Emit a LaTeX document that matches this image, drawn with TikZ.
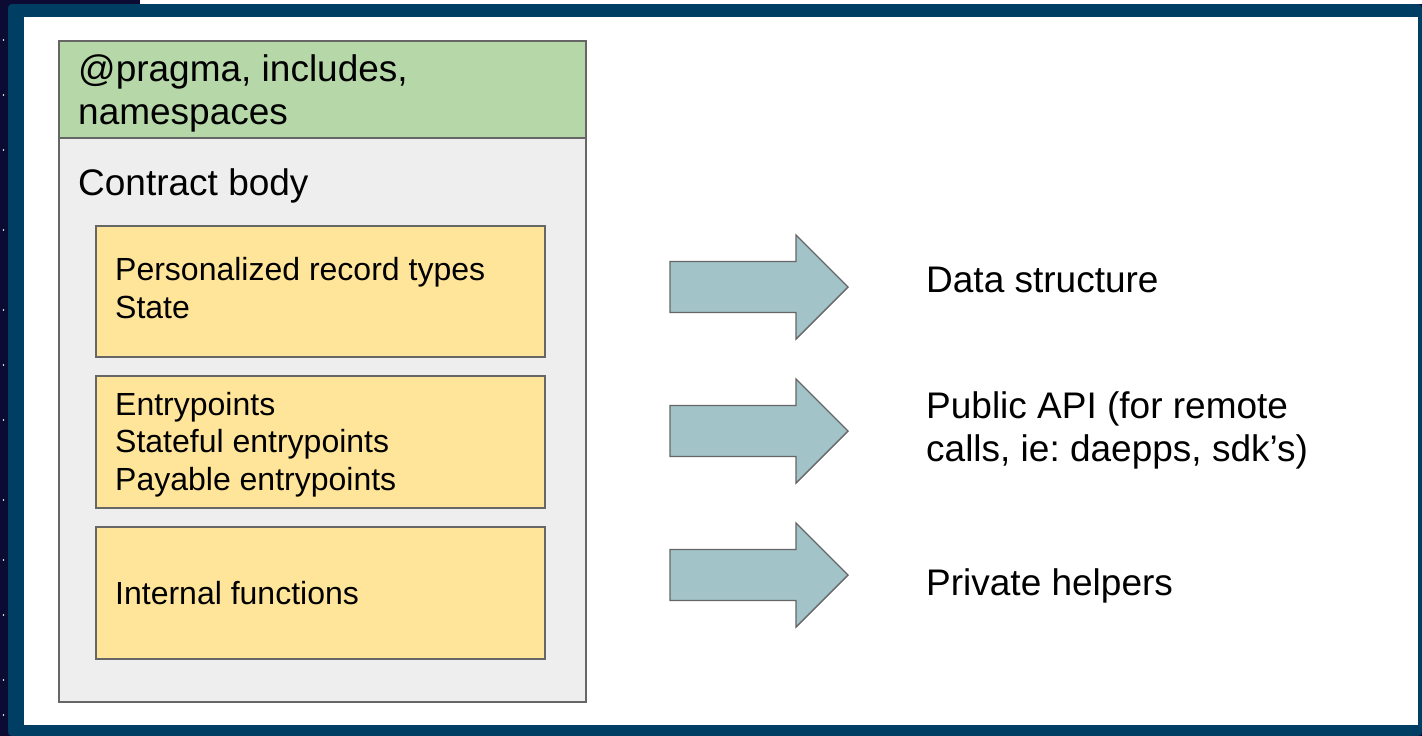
\documentclass[tikz,border=0pt]{standalone}
\usepackage{fontspec}
\setmainfont{Liberation Sans}
\usetikzlibrary{positioning}
\definecolor{slideframe}{HTML}{003F63}
\definecolor{spacebg}{HTML}{0C0B33}
\definecolor{headergreen}{HTML}{B6D7A8}
\definecolor{bodygray}{HTML}{EEEEEE}
\definecolor{sectionyellow}{HTML}{FFE599}
\definecolor{arrowteal}{HTML}{A2C4C9}
\definecolor{outlinegray}{HTML}{666666}
\frenchspacing

\begin{document}
\begin{tikzpicture}[x=1pt,y=-1pt,
        panel/.style={draw=outlinegray,line width=1.4pt},
        bigtext/.style={font=\fontsize{37}{43}\selectfont,align=left,
          inner sep=0pt,anchor=base west},
        smalltext/.style={font=\fontsize{32}{37.5}\selectfont,align=left,
          inner sep=0pt,anchor=base west},
        fatarrow/.pic={\draw[panel,fill=arrowteal,line join=miter]
          (0,-25.5) -- (126,-25.5) -- (126,-52) -- (178,0) -- (126,52)
          -- (126,25.5) -- (0,25.5) -- cycle;}]
        % Slide background and frame
        \fill[spacebg] (0,0) rectangle (1422,736);
        \fill[white] (140,0) rectangle (1422,4);
        \fill[slideframe,rounded corners=4pt] (8,4) rectangle (1422,736);
        \fill[white] (24,17) rectangle (1418,725);
        \foreach \sy in {40,95,150,230,310,365,420,500,560,615,680,715}
          \fill[white] (3.5,\sy) circle (0.9);
        % Contract layout on the left (base anchor = last line)
        \draw[panel,fill=headergreen] (59,41) rectangle (586,138);
        \draw[panel,fill=bodygray] (59,138) rectangle (586,702);
        \draw[panel,fill=sectionyellow] (96,226) rectangle (545,357);
        \draw[panel,fill=sectionyellow] (96,376) rectangle (545,508);
        \draw[panel,fill=sectionyellow] (96,527) rectangle (545,659);
        \node[bigtext] (pragma) at (78,124) {@pragma, includes,\\namespaces};
        \node[bigtext] (body) at (78,195) {Contract body};
        \node[smalltext] (records) at (115,318) {Personalized record types\\State};
        \node[smalltext] (entries) at (115,490)
          {Entrypoints\\Stateful entrypoints\\Payable entrypoints};
        \node[smalltext] (internal) at (115,604) {Internal functions};
        % Arrows and their meaning
        \pic at (670,287) {fatarrow};
        \pic at (670,431) {fatarrow};
        \pic at (670,575) {fatarrow};
        \node[bigtext] (datastruct) at (926,292) {Data structure};
        \node[bigtext] (publicapi) at (926,461)
          {Public API (for remote\\calls, ie: daepps, sdk’s)};
        \node[bigtext] (helpers) at (926,595) {Private helpers};
      \end{tikzpicture}
\end{document}
